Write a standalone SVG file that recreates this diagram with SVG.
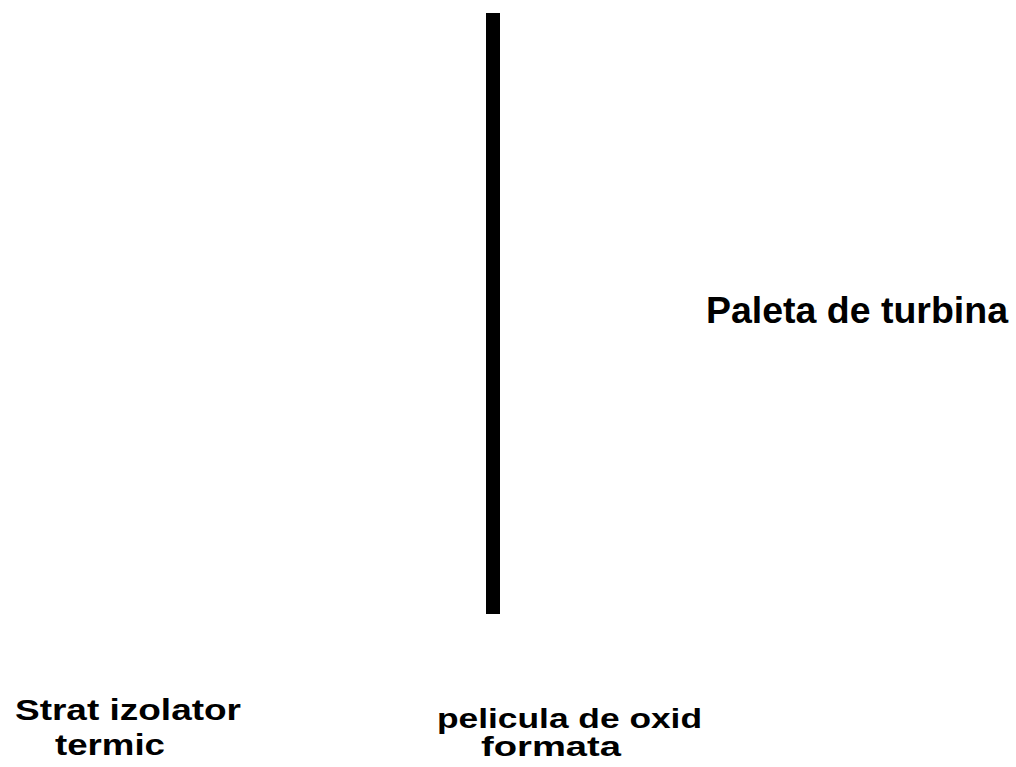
<svg xmlns="http://www.w3.org/2000/svg" width="1016" height="767" viewBox="0 0 1016 767">
<style>
.lbl{font-family:"Liberation Sans",Arial,sans-serif;font-weight:bold;fill:#000}
.big{font-size:36px}
.mid{font-size:30px}
.sm{font-size:28px}
</style>
<rect width="1016" height="767" fill="#fff"/>
<g id="oxide-film">
<rect x="486" y="13" width="14" height="601" fill="#000"/>
</g>
<g id="label-paleta">
<text class="lbl big" x="706" y="323" textLength="302" lengthAdjust="spacingAndGlyphs">Paleta de turbina</text>
</g>
<g id="label-strat">
<text class="lbl mid" x="15" y="720" textLength="226" lengthAdjust="spacingAndGlyphs">Strat izolator</text>
<text class="lbl mid" x="55" y="755" textLength="110" lengthAdjust="spacingAndGlyphs">termic</text>
</g>
<g id="label-pelicula">
<text class="lbl sm" x="437" y="728" textLength="265" lengthAdjust="spacingAndGlyphs">pelicula de oxid</text>
<text class="lbl sm" x="481" y="756" textLength="140" lengthAdjust="spacingAndGlyphs">formata</text>
</g>
<g id="connectors"></g>
</svg>
